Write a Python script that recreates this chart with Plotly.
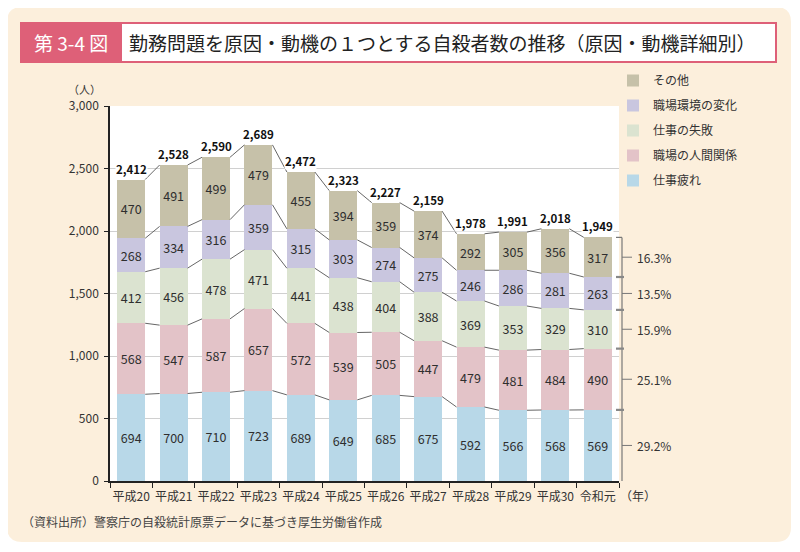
import plotly.graph_objects as go

# ---- data ----
years = ["平成20", "平成21", "平成22", "平成23", "平成24", "平成25",
         "平成26", "平成27", "平成28", "平成29", "平成30", "令和元"]
series_names = ["仕事疲れ", "職場の人間関係", "仕事の失敗", "職場環境の変化", "その他"]
fatigue = [694, 700, 710, 723, 689, 649, 685, 675, 592, 566, 568, 569]
relations = [568, 547, 587, 657, 572, 539, 505, 447, 479, 481, 484, 490]
failure = [412, 456, 478, 471, 441, 438, 404, 388, 369, 353, 329, 310]
environment = [268, 334, 316, 359, 315, 303, 274, 275, 246, 286, 281, 263]
other = [470, 491, 499, 479, 455, 394, 359, 374, 292, 305, 356, 317]
y_ticks = [0, 500, 1000, 1500, 2000, 2500, 3000]

series_values = [fatigue, relations, failure, environment, other]
colors = ["#B8D8E8", "#E3C3C8", "#DBE3D0", "#C9C6DF", "#C6C1A9"]

# page body has an 8px margin; figure sized to fit the window
OFF = 8
W, H = 792, 544
PL, PT, PR, PB = 110, 106, 619, 481          # plot area in screen pixels
PW, PH = PR - PL, PB - PT
ML, MT = PL - OFF, PT - OFF
MR, MB = W - ML - PW, H - MT - PH


def px(xs):
    return (xs - PL) / PW


def py(ys):
    return (PB - ys) / PH


n = len(years)
idx = list(range(n))
bar_w = 0.66
totals = [sum(v[i] for v in series_values) for i in idx]
FONT = "Noto Sans CJK JP"

fig = go.Figure()

for k, (name, vals, col) in enumerate(zip(series_names, series_values, colors)):
    fig.add_trace(go.Bar(
        x=idx, y=vals, name=name, marker=dict(color=col, line=dict(width=0)),
        text=[str(v) for v in vals], textposition="inside", insidetextanchor="middle",
        textangle=0, constraintext="none",
        textfont=dict(size=12.5, color="#2e2e2e", family=FONT),
        legendgroup=name, legendrank=len(series_names) - k, width=bar_w,
    ))

# connector lines between stacked levels
cum = [0] * n
cx, cy = [], []
for vals in series_values:
    cum = [cum[i] + vals[i] for i in idx]
    for i in range(n - 1):
        cx += [i + bar_w / 2, i + 1 - bar_w / 2, None]
        cy += [cum[i], cum[i + 1], None]
fig.add_trace(go.Scatter(x=cx, y=cy, mode="lines", line=dict(color="#555555", width=0.9),
                         showlegend=False, hoverinfo="skip"))

annotations = []
# totals
for i in idx:
    annotations.append(dict(x=i, y=totals[i], xref="x", yref="y", text=f"<b>{totals[i]:,}</b>",
                            xanchor="center", yanchor="middle",
                            showarrow=False, yshift=11, bgcolor="white", borderpad=0,
                            font=dict(size=11.5, color="#111111", family=FONT)))

shapes = []
# background panel (rounded)
x0, x1, y0, y1, r = 7, 791, 7, 542, 15
path = (f"M{px(x0 + r)},{py(y0)} L{px(x1 - r)},{py(y0)} Q{px(x1)},{py(y0)} {px(x1)},{py(y0 + r)} "
        f"L{px(x1)},{py(y1 - r)} Q{px(x1)},{py(y1)} {px(x1 - r)},{py(y1)} "
        f"L{px(x0 + r)},{py(y1)} Q{px(x0)},{py(y1)} {px(x0)},{py(y1 - r)} "
        f"L{px(x0)},{py(y0 + r)} Q{px(x0)},{py(y0)} {px(x0 + r)},{py(y0)} Z")
shapes.append(dict(type="path", path=path, xref="paper", yref="paper", fillcolor="#FCEFDC",
                   line=dict(width=0), layer="below"))
# white plotting area
shapes.append(dict(type="rect", x0=0, x1=1, y0=0, y1=1, xref="paper", yref="paper",
                   fillcolor="white", line=dict(width=0), layer="below"))
# title boxes
shapes.append(dict(type="rect", x0=px(121), x1=px(776), y0=py(23), y1=py(62), xref="paper", yref="paper",
                   fillcolor="white", line=dict(color="#DE6078", width=2), layer="below"))
shapes.append(dict(type="rect", x0=px(21), x1=px(121), y0=py(23), y1=py(62), xref="paper", yref="paper",
                   fillcolor="#DE6078", line=dict(color="#DE6078", width=2), layer="below"))

# bracket for last bar with percentages
last = n - 1
bx = px(622)
shapes.append(dict(type="line", x0=bx, x1=bx, y0=0, y1=totals[last], xref="paper", yref="y",
                   line=dict(color="#777777", width=1.2)))
shapes.append(dict(type="line", x0=px(616), x1=bx, y0=totals[last], y1=totals[last], xref="paper", yref="y",
                   line=dict(color="#777777", width=1.2)))
c = 0
for k, vals in enumerate(series_values):
    v = vals[last]
    mid = c + v / 2
    c += v
    if k < len(series_values) - 1:
        shapes.append(dict(type="line", x0=px(616), x1=px(624), y0=c, y1=c, xref="paper", yref="y",
                           line=dict(color="#888888", width=2.2)))
    shapes.append(dict(type="line", x0=bx, x1=px(632), y0=mid, y1=mid, xref="paper", yref="y",
                       line=dict(color="#777777", width=1)))
    annotations.append(dict(x=px(635), y=mid, xref="paper", yref="y", xanchor="left", yanchor="middle",
                            text=f"{v / totals[last] * 100:.1f}%", showarrow=False,
                            font=dict(size=12, color="#333333", family=FONT)))

# texts
annotations += [
    dict(x=px(71), y=py(42.5), xref="paper", yref="paper", xanchor="center", yanchor="middle",
         text="第 3-4 図", showarrow=False, font=dict(size=19, color="white", family=FONT)),
    dict(x=px(127), y=py(42.5), xref="paper", yref="paper", xanchor="left", yanchor="middle",
         text="勤務問題を原因・動機の１つとする自殺者数の推移（原因・動機詳細別）", showarrow=False,
         font=dict(size=19, color="#222222", family=FONT)),
    dict(x=px(84), y=py(89), xref="paper", yref="paper", xanchor="center", yanchor="middle",
         text="（人）", showarrow=False, font=dict(size=11, color="#333333", family=FONT)),
    dict(x=px(618), y=py(495), xref="paper", yref="paper", xanchor="left", yanchor="middle",
         text="（年）", showarrow=False, font=dict(size=12, color="#333333", family=FONT)),
    dict(x=px(20), y=py(521), xref="paper", yref="paper", xanchor="left", yanchor="middle",
         text="（資料出所）警察庁の自殺統計原票データに基づき厚生労働省作成", showarrow=False,
         font=dict(size=12, color="#444444", family=FONT)),
]

fig.update_layout(
    width=W, height=H, margin=dict(l=ML, r=MR, t=MT, b=MB, autoexpand=False),
    paper_bgcolor="white", plot_bgcolor="rgba(0,0,0,0)",
    barmode="stack", bargap=0.34,
    font=dict(family=FONT, size=12, color="#333333"),
    shapes=shapes, annotations=annotations,
    legend=dict(x=px(613), y=py(66), xanchor="left", yanchor="top", traceorder="grouped",
                tracegroupgap=6, bgcolor="rgba(0,0,0,0)",
                font=dict(size=12, color="#333333", family=FONT)),
    showlegend=True,
)
fig.update_xaxes(range=[-0.5, n - 0.5], tickmode="array", tickvals=idx, ticktext=years,
                 ticks="", showgrid=False, zeroline=False, showline=True, linecolor="#222222",
                 linewidth=1.5, ticklabelstandoff=4, tickfont=dict(size=12, color="#333333"),
                 minor=dict(tick0=0.5, dtick=1, ticks="outside", ticklen=5, tickcolor="#222222",
                            tickwidth=1.2, showgrid=False))
fig.update_yaxes(range=[0, 3000], tickmode="array", tickvals=y_ticks, tickformat=",",
                 ticks="outside", ticklen=4, tickcolor="#222222", tickwidth=1.2,
                 showgrid=True, gridcolor="#D0D0D0", gridwidth=1, zeroline=False,
                 showline=True, linecolor="#222222", linewidth=1.5, ticklabelstandoff=3,
                 tickfont=dict(size=12, color="#333333"))

fig.write_html("out.html")
